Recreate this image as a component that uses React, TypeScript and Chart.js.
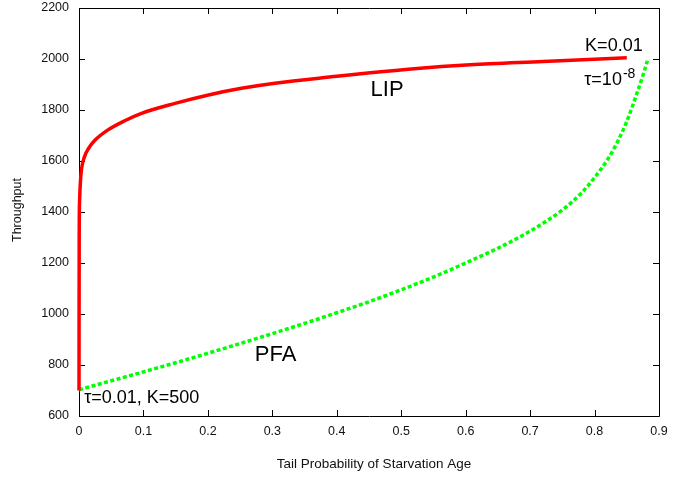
import React, { useEffect, useRef } from "react";
import { Chart, registerables } from "chart.js";

Chart.register(...registerables);

// ---- data ----
const lipX = [0, 0.0003, 0.001, 0.002, 0.004, 0.009, 0.015, 0.025, 0.045, 0.071, 0.097, 0.149, 0.201, 0.252, 0.304, 0.4, 0.452, 0.52, 0.607, 0.72, 0.85];
const lipY = [700, 1300, 1450, 1510, 1570, 1620, 1650, 1682, 1722, 1758, 1787, 1826, 1859, 1885, 1905, 1932, 1946, 1962, 1977, 1990, 2005];

const pfaX = [0, 0.05, 0.1, 0.15, 0.2, 0.25, 0.3, 0.35, 0.4, 0.45, 0.5, 0.55, 0.6, 0.65, 0.7, 0.75, 0.78, 0.8, 0.82, 0.835, 0.85, 0.865, 0.875, 0.882];
const pfaY = [703, 738, 773, 809, 846, 884, 923, 963, 1005, 1048, 1095, 1145, 1200, 1258, 1325, 1408, 1475, 1535, 1605, 1672, 1755, 1860, 1935, 1993];

const xTicks = [0, 0.1, 0.2, 0.3, 0.4, 0.5, 0.6, 0.7, 0.8, 0.9];
const yTicks = [600, 800, 1000, 1200, 1400, 1600, 1800, 2000, 2200];

const xTitle = "Tail Probability of Starvation Age";
const yTitle = "Throughput";

// annotation texts
const labelTexts = ["LIP", "PFA", "K=0.01", "τ=10", "τ=0.01, K=500"];
const labelSups = ["", "", "", "-8", ""];
const labelX = [0.478, 0.305, 0.83, 0.784, 0.008];
const labelY = [1878, 840, 2051, 1898, 652];
const labelAlign = ["center", "center", "center", "left", "left"];
const labelBase = ["middle", "middle", "middle", "alphabetic", "alphabetic"];
const labelSize = [22, 22, 18, 18, 18];

const FONT = '"Liberation Sans", Arial, Helvetica, sans-serif';

const framePlugin = {
  id: "gnuFrame",
  beforeDatasetsDraw(chart: any) {
    const { ctx, chartArea } = chart;
    const xs = chart.scales.x;
    const ys = chart.scales.y;
    const { left, right, top, bottom } = chartArea;
    ctx.save();
    ctx.strokeStyle = "#000";
    ctx.lineWidth = 1;
    ctx.beginPath();
    ctx.rect(Math.round(left) + 0.5, Math.round(top) + 0.5, Math.round(right - left), Math.round(bottom - top));
    const tl = 6;
    for (const v of xTicks) {
      const px = Math.round(xs.getPixelForValue(v)) + 0.5;
      ctx.moveTo(px, bottom);
      ctx.lineTo(px, bottom - tl);
      ctx.moveTo(px, top);
      ctx.lineTo(px, top + tl);
    }
    for (const v of yTicks) {
      const py = Math.round(ys.getPixelForValue(v)) + 0.5;
      ctx.moveTo(left, py);
      ctx.lineTo(left + tl, py);
      ctx.moveTo(right, py);
      ctx.lineTo(right - tl, py);
    }
    ctx.stroke();
    ctx.restore();
  },
  afterDraw(chart: any) {
    const { ctx, chartArea } = chart;
    const xs = chart.scales.x;
    const ys = chart.scales.y;
    ctx.save();
    ctx.fillStyle = "#000";
    for (let i = 0; i < labelTexts.length; i++) {
      const px = xs.getPixelForValue(labelX[i]);
      const py = ys.getPixelForValue(labelY[i]);
      ctx.font = `${labelSize[i]}px ${FONT}`;
      ctx.textAlign = labelAlign[i];
      ctx.textBaseline = labelBase[i];
      ctx.fillText(labelTexts[i], px, py);
      if (labelSups[i]) {
        const w = ctx.measureText(labelTexts[i]).width;
        ctx.font = `${Math.round(labelSize[i] * 0.75)}px ${FONT}`;
        ctx.textAlign = "left";
        ctx.fillText(labelSups[i], px + w + 1, py - 7);
      }
    }
    // axis titles
    ctx.fillStyle = "#111";
    ctx.font = `13.5px ${FONT}`;
    ctx.textAlign = "center";
    ctx.textBaseline = "alphabetic";
    ctx.fillText(xTitle, (chartArea.left + chartArea.right) / 2 + 5, 468);
    ctx.save();
    ctx.translate(21, 210);
    ctx.rotate(-Math.PI / 2);
    ctx.font = `12.5px ${FONT}`;
    ctx.fillText(yTitle, 0, 0);
    ctx.restore();
    ctx.restore();
  },
};

export default function App() {
  const ref = useRef<HTMLCanvasElement | null>(null);
  useEffect(() => {
    document.body.style.margin = "0";
    const canvas = ref.current;
    if (!canvas) return;
    const chart = new Chart(canvas, {
      type: "line",
      data: {
        datasets: [
          {
            label: "LIP",
            data: lipX.map((x, i) => ({ x, y: lipY[i] })),
            borderColor: "#ff0000",
            backgroundColor: "#ff0000",
            borderWidth: 3.5,
            pointRadius: 0,
            cubicInterpolationMode: "monotone",
            clip: false,
          },
          {
            label: "PFA",
            data: pfaX.map((x, i) => ({ x, y: pfaY[i] })),
            borderColor: "#00ff00",
            backgroundColor: "#00ff00",
            borderWidth: 3.5,
            borderDash: [4, 2.5],
            pointRadius: 0,
            cubicInterpolationMode: "monotone",
            clip: false,
          },
        ],
      },
      options: {
        animation: false,
        responsive: false,
        maintainAspectRatio: false,
        layout: { padding: { top: 8, right: 14, left: 0, bottom: 0 } },
        plugins: { legend: { display: false }, tooltip: { enabled: false }, title: { display: false } },
        scales: {
          x: {
            type: "linear",
            min: 0,
            max: 0.9,
            grid: { display: false, drawTicks: false },
            border: { display: false },
            afterBuildTicks: (s: any) => { s.ticks = xTicks.map((v) => ({ value: v })); },
            afterFit: (s: any) => { s.height = 61; s.paddingLeft = 0; s.paddingRight = 0; },
            ticks: {
              padding: 8,
              color: "#111",
              font: { family: FONT, size: 12.5 },
              maxRotation: 0,
              autoSkip: false,
              callback: (v: any) => String(Math.round(Number(v) * 10) / 10),
            },
          },
          y: {
            type: "linear",
            min: 600,
            max: 2200,
            grid: { display: false, drawTicks: false },
            border: { display: false },
            afterBuildTicks: (s: any) => { s.ticks = yTicks.map((v) => ({ value: v })); },
            afterFit: (s: any) => { s.width = 79; s.paddingTop = 0; s.paddingBottom = 0; },
            ticks: {
              padding: 10,
              color: "#111",
              font: { family: FONT, size: 12.5 },
              autoSkip: false,
              callback: (v: any) => String(v),
            },
          },
        },
      },
      plugins: [framePlugin],
    } as any);
    return () => chart.destroy();
  }, []);
  return (
    <div style={{ position: "fixed", left: 0, top: 0, width: 673, height: 477, background: "#fff" }}>
      <canvas ref={ref} width={673} height={477} style={{ width: 673, height: 477, display: "block" }} />
    </div>
  );
}
